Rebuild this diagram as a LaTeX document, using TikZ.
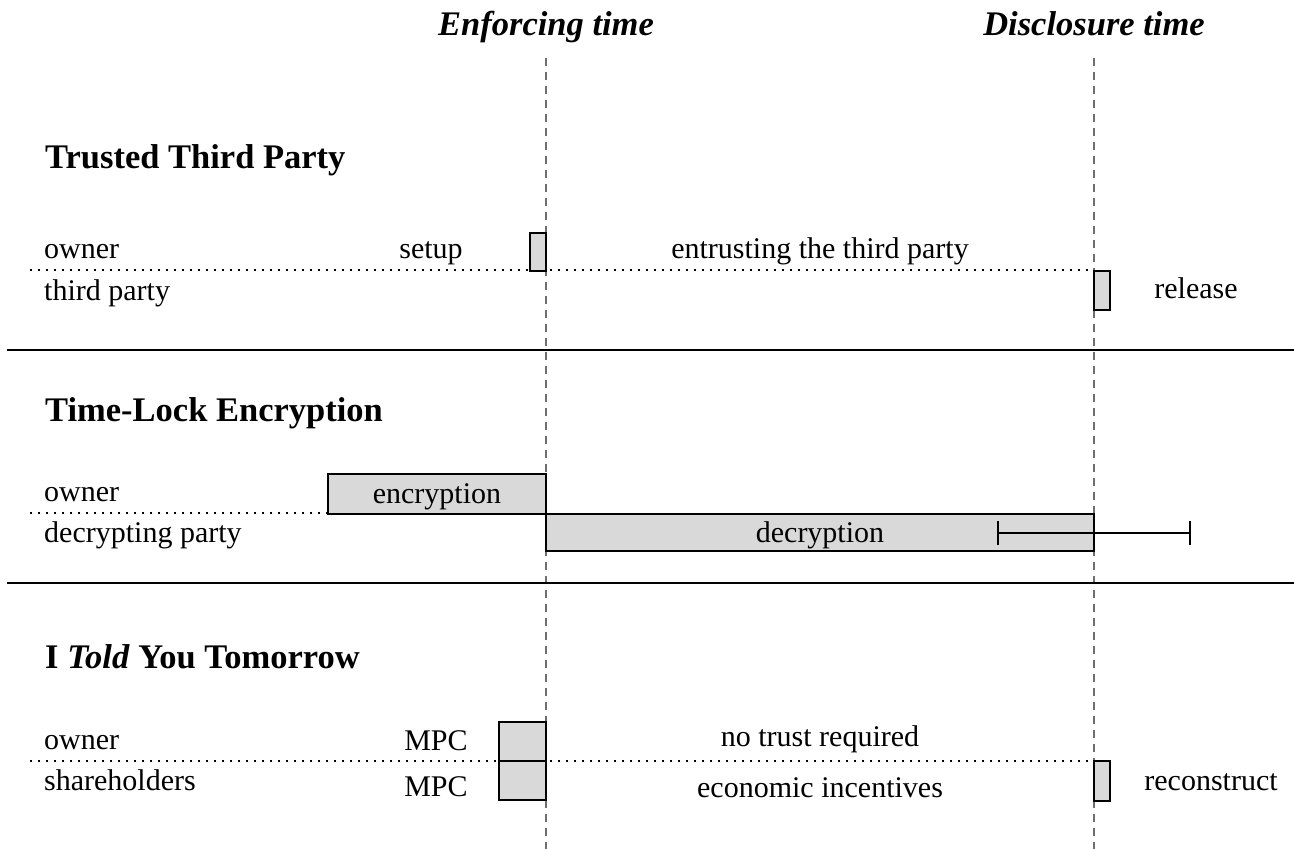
\documentclass[tikz,border=0pt]{standalone}
\usepackage{fontspec}
\setmainfont{Liberation Serif}
\usetikzlibrary{arrows.meta}

\definecolor{boxgray}{HTML}{D9D9D9}
\definecolor{markgray}{HTML}{6E6E6E}

\newcommand\bodyfont{\fontsize{30}{36}\selectfont}
\newcommand\headfont{\fontsize{34.5}{40}\selectfont\bfseries}

\tikzset{
  lbl/.style={font=\bodyfont, inner sep=0pt, anchor=base},
  actor/.style={lbl, anchor=base west},
  section/.style={font=\headfont, inner sep=0pt, anchor=base west},
  moment/.style={font=\headfont\itshape, inner sep=0pt, anchor=base},
  phase/.style={draw=black, line width=2.4pt, fill=boxgray, inner sep=0pt,
                outer sep=0pt, anchor=north west, font=\bodyfont},
  timeline/.style={line width=2pt, dash pattern=on 2pt off 6pt},
  marker/.style={draw=markgray, line width=1.6pt, dash pattern=on 8pt off 6pt},
  divider/.style={line width=2pt},
}

\begin{document}
\begin{tikzpicture}[x=1pt, y=-1pt]
\useasboundingbox (0,0) rectangle (1294,849);

% time markers
\node[moment] (enftxt) at (546,35) {Enforcing time};
\node[moment] (distxt) at (1094,35) {Disclosure time};
\coordinate (enftop) at (546,58);
\coordinate (enfbot) at (546,849);
\coordinate (distop) at (1094,58);
\coordinate (disbot) at (1094,849);
\draw[marker] (enftop) -- (enfbot);
\draw[marker] (distop) -- (disbot);

% section dividers
\coordinate (d1l) at (7,350);  \coordinate (d1r) at (1294,350);
\coordinate (d2l) at (7,583);  \coordinate (d2r) at (1294,583);
\draw[divider] (d1l) -- (d1r);
\draw[divider] (d2l) -- (d2r);

% ---- Trusted Third Party ----
\node[section] (ttp) at (45,168) {Trusted Third Party};
\node[actor] (ttpowner) at (44,258) {owner};
\node[actor] (ttpthird) at (44,300) {third party};
\coordinate (tl1a) at (30,270);
\coordinate (tl1b) at (1094,270);
\draw[timeline] (tl1a) -- (tl1b);
\node[lbl] (setuptxt) at (431,258) {setup};
\node[phase, minimum width=16, minimum height=38] (setupbox) at (530,233) {};
\node[lbl] (entrust) at (820,258) {entrusting the third party};
\node[phase, minimum width=16, minimum height=39] (releasebox) at (1094,271) {};
\node[lbl] (releasetxt) at (1196,298) {release};

% ---- Time-Lock Encryption ----
\node[section] (tle) at (45,421) {Time-Lock Encryption};
\node[actor] (tleowner) at (44,501) {owner};
\node[actor] (tledec) at (44,542) {decrypting party};
\coordinate (tl2a) at (30,513);
\coordinate (tl2b) at (328,513);
\draw[timeline] (tl2a) -- (tl2b);
\node[phase, minimum width=218, minimum height=40] (encbox) at (328,474) {};
\node[lbl] (enctxt) at (437,503) {encryption};
\node[phase, minimum width=548, minimum height=37] (decbox) at (546,514) {};
\node[lbl] (dectxt) at (820,542) {decryption};
\coordinate (errl) at (997,533);
\coordinate (errr) at (1191,533);
\draw[line width=2pt, {Bar[width=24pt,line width=2pt]}-{Bar[width=24pt,line width=2pt]}] (errl) -- (errr);

% ---- I Told You Tomorrow ----
\node[section] (itu) at (45,668) {I \textit{Told} You Tomorrow};
\node[actor] (ituowner) at (44,749) {owner};
\node[actor] (itushare) at (44,790) {shareholders};
\coordinate (tl3a) at (30,761);
\coordinate (tl3b) at (1094,761);
\draw[timeline] (tl3a) -- (tl3b);
\node[lbl] (mpctop) at (436,750) {MPC};
\node[lbl] (mpcbot) at (436,796) {MPC};
\node[phase, minimum width=47, minimum height=39] (mpcboxa) at (499,722) {};
\node[phase, minimum width=47, minimum height=39] (mpcboxb) at (499,761) {};
\node[lbl] (notrust) at (820,746) {no trust required};
\node[lbl] (econ) at (820,797) {economic incentives};
\node[phase, minimum width=16, minimum height=40] (recbox) at (1094,761) {};
\node[lbl] (rectxt) at (1211,790) {reconstruct};
\end{tikzpicture}
\end{document}
